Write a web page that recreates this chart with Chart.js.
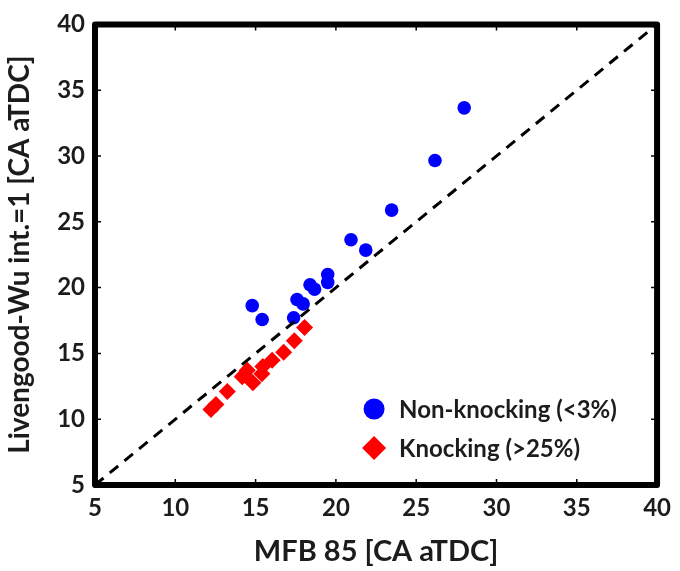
<!DOCTYPE html>
<html>
<head>
<meta charset="utf-8">
<script src="https://cdn.jsdelivr.net/npm/chart.js@4.4.0/dist/chart.umd.min.js"></script>
<style>
  html, body { margin: 0; padding: 0; background: #fff; }
  canvas { display: block; }
</style>
</head>
<body>
<canvas id="c" width="680" height="571"></canvas>
<script>
// Axis range and tick positions (both axes share them)
const axisTicks = [5, 10, 15, 20, 25, 30, 35, 40];

// Non-knocking cycles (<3%)
const nonKnockX = [27.99, 26.17, 23.47, 20.94, 21.86, 19.49, 19.49, 18.39, 18.67, 17.58, 17.96, 14.79, 15.41, 17.37];
const nonKnockY = [33.66, 29.66, 25.89, 23.64, 22.85, 21.00, 20.40, 20.22, 19.88, 19.10, 18.76, 18.63, 17.58, 17.71];

// Knocking cycles (>25%)
const knockX = [18.05, 17.41, 16.75, 16.03, 15.45, 15.39, 14.83, 14.48, 14.17, 13.24, 12.53, 12.22, 14.30];
const knockY = [16.96, 15.97, 15.09, 14.47, 14.00, 13.45, 12.77, 13.72, 13.22, 12.10, 11.11, 10.73, 13.40];

// 1:1 reference line
const parityX = [5, 40];
const parityY = [5, 40];

const seriesLabels = ['Non-knocking (<3%)', 'Knocking (>25%)'];
const xTitle = 'MFB 85 [CA aTDC]';
const yTitle = 'Livengood-Wu int.=1 [CA aTDC]';

const FONT = 'Lato, "Open Sans", sans-serif';
const TEXT = '#1c1c1c';

const toPoints = (xs, ys) => xs.map((x, i) => ({ x, y: ys[i] }));

// Thick frame around the plot plus small inward ticks on every side
const framePlugin = {
  id: 'frame',
  afterDraw(chart) {
    const { ctx, chartArea: a, scales } = chart;
    ctx.save();
    ctx.strokeStyle = '#000';
    ctx.lineWidth = 1.5;
    axisTicks.forEach(v => {
      const px = scales.x.getPixelForValue(v);
      const py = scales.y.getPixelForValue(v);
      ctx.beginPath();
      ctx.moveTo(px, a.top); ctx.lineTo(px, a.top + 6);
      ctx.moveTo(px, a.bottom); ctx.lineTo(px, a.bottom - 6);
      ctx.moveTo(a.left, py); ctx.lineTo(a.left + 6, py);
      ctx.moveTo(a.right, py); ctx.lineTo(a.right - 6, py);
      ctx.stroke();
    });
    ctx.lineWidth = 6;
    ctx.lineJoin = 'round';
    ctx.strokeRect(a.left, a.top, a.right - a.left, a.bottom - a.top);
    ctx.restore();
  }
};

// Legend drawn inside the lower-right part of the plot
const insideLegend = {
  id: 'insideLegend',
  afterDraw(chart) {
    const { ctx, chartArea: a } = chart;
    const mx = a.right - 283;
    const rows = [a.bottom - 76, a.bottom - 37];
    ctx.save();
    ctx.font = 'bold 24px ' + FONT;
    ctx.textBaseline = 'middle';
    [0, 1].forEach(i => {
      const ds = chart.data.datasets[i];
      const y = rows[i];
      ctx.fillStyle = ds.backgroundColor;
      ctx.beginPath();
      if (ds.pointStyle === 'rectRot') {
        const r = 12;
        ctx.moveTo(mx, y - r); ctx.lineTo(mx + r, y); ctx.lineTo(mx, y + r); ctx.lineTo(mx - r, y);
        ctx.closePath();
      } else {
        ctx.arc(mx, y, 10.5, 0, Math.PI * 2);
      }
      ctx.fill();
      ctx.fillStyle = TEXT;
      ctx.fillText(ds.label, mx + 25, y + 1);
    });
    ctx.restore();
  }
};

new Chart(document.getElementById('c'), {
  type: 'scatter',
  data: {
    datasets: [
      {
        label: seriesLabels[0],
        data: toPoints(nonKnockX, nonKnockY),
        pointStyle: 'circle',
        pointRadius: 6.8,
        backgroundColor: '#0000ff',
        borderWidth: 0,
        order: 2
      },
      {
        label: seriesLabels[1],
        data: toPoints(knockX, knockY),
        pointStyle: 'rectRot',
        pointRadius: 8.5,
        backgroundColor: '#ff0000',
        borderWidth: 0,
        order: 2
      },
      {
        type: 'line',
        label: '1:1',
        data: toPoints(parityX, parityY),
        borderColor: '#000',
        borderWidth: 3,
        borderDash: [11, 8],
        pointRadius: 0,
        fill: false,
        order: 1
      }
    ]
  },
  options: {
    responsive: false,
    animation: false,
    devicePixelRatio: 1,
    layout: { padding: { top: 17, right: 19, left: 0, bottom: 0 } },
    plugins: { legend: { display: false }, tooltip: { enabled: false } },
    scales: {
      x: {
        type: 'linear',
        min: axisTicks[0],
        max: axisTicks[axisTicks.length - 1],
        afterFit(s) { s.height = 86; },
        ticks: { stepSize: 5, padding: 9, color: TEXT, font: { family: FONT, size: 24, weight: 'bold' } },
        grid: { display: false, drawTicks: false },
        border: { display: false },
        title: { display: true, text: xTitle, color: TEXT, padding: { top: 0, bottom: 2 }, font: { family: FONT, size: 29, weight: 'bold' } }
      },
      y: {
        type: 'linear',
        min: axisTicks[0],
        max: axisTicks[axisTicks.length - 1],
        afterFit(s) { s.width = 95; },
        ticks: { stepSize: 5, padding: 10, color: TEXT, font: { family: FONT, size: 24, weight: 'bold' } },
        grid: { display: false, drawTicks: false },
        border: { display: false },
        title: { display: true, text: yTitle, color: TEXT, padding: { top: 3, bottom: 0 }, font: { family: FONT, size: 28, weight: 'bold' } }
      }
    }
  },
  plugins: [framePlugin, insideLegend]
});
</script>
</body>
</html>
